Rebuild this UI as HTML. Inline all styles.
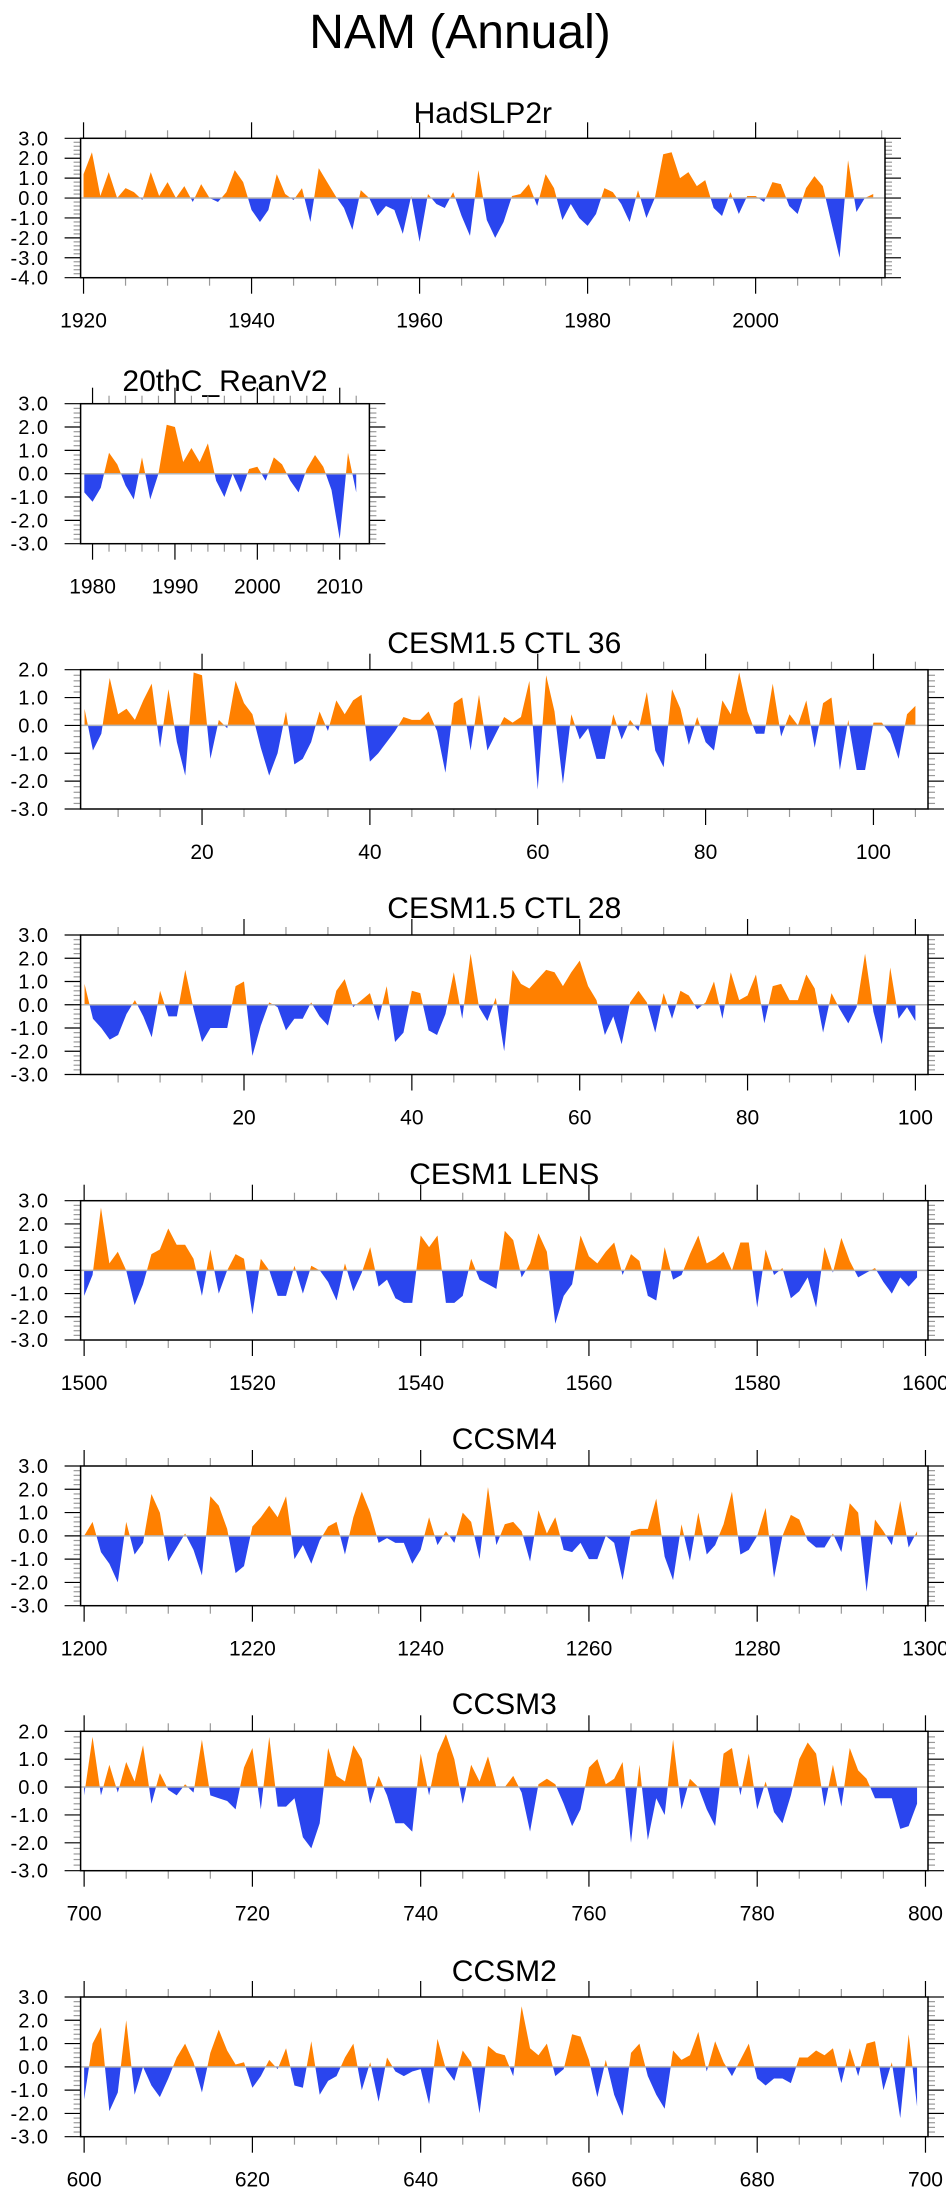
<!DOCTYPE html>
<html>
<head>
<meta charset="utf-8">
<style>
  html,body{margin:0;padding:0;background:#fff;}
  body{width:946px;height:2195px;overflow:hidden;}
  svg{display:block;}
  text{font-family:"Liberation Sans",sans-serif;fill:#000;}
</style>
</head>
<body>
<svg id="chart" width="946" height="2195" viewBox="0 0 946 2195" xmlns="http://www.w3.org/2000/svg">
  <text x="460" y="48" font-size="48" text-anchor="middle">NAM (Annual)</text>
</svg>
<script>
// ---- data ----
const hadslpStart = 1920;
const hadslpValues = [1.2,2.3,0.1,1.3,0.0,0.5,0.3,-0.1,1.3,0.1,0.8,0.0,0.6,-0.2,0.7,0.0,-0.2,0.3,1.4,0.8,
 -0.6,-1.2,-0.6,1.2,0.2,-0.1,0.5,-1.2,1.5,0.8,0.1,-0.5,-1.6,0.4,0.0,-0.9,-0.4,-0.6,-1.8,0.1,
 -2.2,0.2,-0.3,-0.5,0.3,-0.9,-1.9,1.4,-1.1,-2.0,-1.2,0.1,0.2,0.7,-0.4,1.2,0.5,-1.1,-0.3,-1.0,
 -1.4,-0.8,0.5,0.3,-0.3,-1.2,0.4,-1.0,0.0,2.2,2.3,1.0,1.3,0.6,0.9,-0.5,-0.9,0.3,-0.8,0.1,
 0.1,-0.2,0.8,0.7,-0.4,-0.8,0.5,1.1,0.6,-1.2,-3.0,1.9,-0.7,0.0,0.2];
const reanStart = 1979;
const reanValues = [-0.8,-1.2,-0.6,0.9,0.4,-0.5,-1.1,0.7,-1.1,0.0,2.1,2.0,0.5,1.1,0.5,1.3,-0.3,-1.0,0.0,-0.8,
 0.2,0.3,-0.3,0.7,0.4,-0.3,-0.8,0.2,0.8,0.3,-0.7,-2.8,0.9,-0.8];
const ctl36Start = 6;
const ctl36Values = [0.6,-0.9,-0.3,1.7,0.4,0.6,0.2,0.9,1.5,-0.8,1.3,-0.6,-1.8,1.9,1.8,-1.2,0.2,-0.1,1.6,0.8,
 0.4,-0.8,-1.8,-1.0,0.5,-1.4,-1.2,-0.6,0.5,-0.2,0.9,0.4,0.9,1.1,-1.3,-1.0,-0.6,-0.2,0.3,0.2,
 0.2,0.5,-0.2,-1.7,0.8,1.0,-0.9,1.1,-0.9,-0.3,0.3,0.1,0.3,1.6,-2.3,1.8,0.5,-2.1,0.4,-0.5,
 -0.1,-1.2,-1.2,0.4,-0.5,0.2,-0.2,1.2,-0.9,-1.5,1.3,0.6,-0.7,0.3,-0.6,-0.9,0.9,0.4,1.9,0.5,
 -0.3,-0.3,1.5,-0.4,0.4,0.0,0.9,-0.8,0.8,1.0,-1.6,0.2,-1.6,-1.6,0.1,0.1,-0.3,-1.2,0.4,0.7];
const ctl28Start = 1;
const ctl28Values = [0.9,-0.6,-1.0,-1.5,-1.3,-0.4,0.2,-0.5,-1.4,0.6,-0.5,-0.5,1.5,-0.2,-1.6,-1.0,-1.0,-1.0,0.8,1.0,
 -2.2,-0.9,0.1,-0.1,-1.1,-0.6,-0.6,0.1,-0.5,-0.9,0.6,1.1,-0.1,0.2,0.5,-0.7,0.8,-1.6,-1.2,0.6,
 0.5,-1.1,-1.3,-0.4,1.4,-0.6,2.2,-0.1,-0.7,0.3,-2.0,1.5,0.9,0.7,1.1,1.5,1.4,0.8,1.4,1.9,
 0.8,0.2,-1.3,-0.5,-1.7,0.1,0.6,0.1,-1.2,0.5,-0.6,0.6,0.4,-0.2,0.1,1.0,-0.6,1.4,0.2,0.4,
 1.3,-0.8,0.8,0.9,0.2,0.2,1.3,0.7,-1.2,0.5,-0.2,-0.8,-0.1,2.2,-0.3,-1.7,1.6,-0.6,-0.1,-0.7];
const lensStart = 1500;
const lensValues = [-1.1,-0.2,2.7,0.3,0.8,0.0,-1.5,-0.6,0.7,0.9,1.8,1.1,1.1,0.5,-1.1,0.9,-1.0,0.0,0.7,0.5,
 -1.9,0.5,0.0,-1.1,-1.1,0.2,-1.0,0.2,0.0,-0.5,-1.3,0.3,-0.9,-0.1,1.0,-0.7,-0.4,-1.2,-1.4,-1.4,
 1.5,1.0,1.5,-1.4,-1.4,-1.1,0.5,-0.4,-0.6,-0.8,1.7,1.3,-0.3,0.3,1.6,0.8,-2.3,-1.1,-0.6,1.5,
 0.6,0.3,0.8,1.2,-0.2,0.7,0.4,-1.1,-1.3,1.0,-0.4,-0.2,0.7,1.5,0.3,0.5,0.8,0.0,1.2,1.2,
 -1.6,0.9,-0.2,0.1,-1.2,-0.9,-0.3,-1.6,1.0,-0.1,1.4,0.4,-0.3,-0.1,0.1,-0.5,-1.0,-0.3,-0.7,-0.3];
const ccsm4Start = 1200;
const ccsm4Values = [0.0,0.6,-0.7,-1.2,-2.0,0.6,-0.8,-0.3,1.8,1.0,-1.1,-0.5,0.1,-0.6,-1.7,1.7,1.3,0.3,-1.6,-1.3,
 0.4,0.8,1.3,0.8,1.7,-1.0,-0.4,-1.2,-0.2,0.4,0.6,-0.8,0.8,1.9,1.0,-0.3,-0.1,-0.3,-0.3,-1.2,
 -0.6,0.8,-0.4,0.2,-0.3,1.0,0.6,-1.0,2.1,-0.4,0.5,0.6,0.2,-1.1,1.1,0.1,0.8,-0.6,-0.7,-0.3,
 -1.0,-1.0,0.0,-0.3,-1.9,0.2,0.3,0.3,1.6,-0.9,-1.9,0.5,-1.1,1.0,-0.8,-0.4,0.5,1.9,-0.8,-0.6,
 0.0,1.2,-1.8,0.0,0.9,0.7,-0.2,-0.5,-0.5,0.1,-0.7,1.4,1.0,-2.4,0.7,0.2,-0.4,1.5,-0.5,0.2];
const ccsm3Start = 700;
const ccsm3Values = [-0.3,1.8,-0.3,0.8,-0.2,0.9,0.2,1.5,-0.6,0.5,-0.1,-0.3,0.1,-0.2,1.7,-0.3,-0.4,-0.5,-0.8,0.7,
 1.4,-0.8,1.8,-0.7,-0.7,-0.4,-1.8,-2.2,-1.3,1.4,0.4,0.2,1.5,1.0,-0.6,0.4,-0.3,-1.3,-1.3,-1.6,
 1.2,-0.3,1.2,1.9,1.0,-0.6,0.8,0.2,1.1,0.0,0.0,0.4,-0.2,-1.6,0.1,0.3,0.1,-0.6,-1.4,-0.8,
 0.7,1.0,0.1,0.3,0.9,-2.0,0.8,-1.9,-0.4,-1.0,1.7,-0.8,0.3,0.0,-0.8,-1.4,1.2,1.4,-0.3,1.2,
 -0.8,0.2,-0.9,-1.3,-0.3,1.0,1.6,1.2,-0.7,0.8,-0.7,1.4,0.6,0.3,-0.4,-0.4,-0.4,-1.5,-1.4,-0.6];
const ccsm2Start = 600;
const ccsm2Values = [-1.4,1.0,1.7,-1.9,-1.1,2.0,-1.2,0.0,-0.8,-1.3,-0.5,0.4,1.0,0.2,-1.1,0.6,1.6,0.7,0.1,0.2,
 -0.9,-0.4,0.3,-0.1,0.8,-0.8,-0.9,1.1,-1.2,-0.6,-0.4,0.4,1.0,-1.0,0.2,-1.5,0.4,-0.2,-0.4,-0.2,
 -0.1,-1.6,1.2,-0.1,-0.6,0.7,0.2,-2.0,0.9,0.6,0.5,-0.4,2.6,0.8,0.5,1.0,-0.4,-0.1,1.4,1.3,
 0.3,-1.3,0.3,-1.2,-2.1,0.6,1.0,-0.4,-1.2,-1.8,0.7,0.3,0.5,1.5,-0.2,1.1,0.2,-0.4,0.3,1.0,
 -0.5,-0.8,-0.5,-0.5,-0.7,0.4,0.4,0.7,0.5,0.8,-0.7,0.8,-0.4,1.0,1.1,-1.0,0.2,-2.2,1.4,-1.7];

const panelTitles = ["HadSLP2r","20thC_ReanV2","CESM1.5 CTL 36","CESM1.5 CTL 28","CESM1 LENS","CCSM4","CCSM3","CCSM2"];
const xTickLabels = [
 [1920,1940,1960,1980,2000],[1980,1990,2000,2010],[20,40,60,80,100],[20,40,60,80,100],
 [1500,1520,1540,1560,1580,1600],[1200,1220,1240,1260,1280,1300],[700,720,740,760,780,800],[600,620,640,660,680,700]];

// ---- layout ----
const NS = "http://www.w3.org/2000/svg";
const svg = document.getElementById('chart');
const ORANGE = "#ff8000", BLUE = "#2a45ee";
const panels = [
 {key:'hadslp', start:hadslpStart, vals:hadslpValues, L:80.6,R:885,T:138.3,B:277.7, d0:1919.65,d1:2015.4, y0:-4,y1:3, minor:5, ty:112},
 {key:'rean', start:reanStart, vals:reanValues, L:80.6,R:369.4,T:403.7,B:543.7, d0:1978.55,d1:2013.6, y0:-3,y1:3, minor:2, ty:380},
 {key:'ctl36', start:ctl36Start, vals:ctl36Values, L:80.6,R:928,T:669.7,B:809, d0:5.53,d1:106.5, y0:-3,y1:2, minor:5, ty:642},
 {key:'ctl28', start:ctl28Start, vals:ctl28Values, L:80.6,R:928,T:935,B:1074.5, d0:0.53,d1:101.5, y0:-3,y1:3, minor:5, ty:907},
 {key:'lens', start:lensStart, vals:lensValues, L:80.6,R:928,T:1200.7,B:1340, d0:1499.58,d1:1600.3, y0:-3,y1:3, minor:5, ty:1173},
 {key:'ccsm4', start:ccsm4Start, vals:ccsm4Values, L:80.6,R:928,T:1466,B:1605.7, d0:1199.58,d1:1300.3, y0:-3,y1:3, minor:5, ty:1438},
 {key:'ccsm3', start:ccsm3Start, vals:ccsm3Values, L:80.6,R:928,T:1731.3,B:1870.7, d0:699.58,d1:800.3, y0:-3,y1:2, minor:5, ty:1703},
 {key:'ccsm2', start:ccsm2Start, vals:ccsm2Values, L:80.6,R:928,T:1997,B:2136.7, d0:599.58,d1:700.3, y0:-3,y1:3, minor:5, ty:1970}
];

function mk(tag, attrs, parent){
  const e = document.createElementNS(NS, tag);
  for (const k in attrs) e.setAttribute(k, attrs[k]);
  (parent||svg).appendChild(e);
  return e;
}
const defs = mk('defs', {});

panels.forEach((p, i) => {
  const g = mk('g', {});
  
  
  const xS = v => p.L + (v - p.d0) / (p.d1 - p.d0) * (p.R - p.L);
  const yS = v => p.B - (v - p.y0) / (p.y1 - p.y0) * (p.B - p.T);
  const zy = yS(0);

  const t = mk('text', {x:(p.L+p.R)/2, y:p.ty+11, 'font-size':30, 'text-anchor':'middle'}, g);
  t.textContent = panelTitles[i];
  
  

  const cpUp = mk('clipPath', {id:'up'+i}, defs);
  mk('rect', {x:p.L, y:p.T, width:p.R-p.L, height:zy-p.T}, cpUp);
  const cpDn = mk('clipPath', {id:'dn'+i}, defs);
  mk('rect', {x:p.L, y:zy, width:p.R-p.L, height:p.B-zy}, cpDn);

  let d = 'M' + xS(p.start).toFixed(2) + ',' + zy.toFixed(2);
  p.vals.forEach((v, k) => { d += ' L' + xS(p.start + k).toFixed(2) + ',' + yS(v).toFixed(2); });
  d += ' L' + xS(p.start + p.vals.length - 1).toFixed(2) + ',' + zy.toFixed(2) + ' Z';
  const pos = mk('path', {d:d, fill:ORANGE, 'clip-path':'url(#up'+i+')'}, g);
  
  
  const neg = mk('path', {d:d, fill:BLUE, 'clip-path':'url(#dn'+i+')'}, g);
  
  

  const zl = mk('line', {x1:p.L, x2:p.R, y1:zy, y2:zy, stroke:'#b4b4b4', 'stroke-width':1.5}, g);
  
  

  for (let k = Math.round(p.y0*5); k <= Math.round(p.y1*5); k++) {
    const v = k/5, y = yS(v);
    const major = (k % 5 === 0);
    const len = major ? 16 : 7;
    const col = major ? '#000' : '#999';
    mk('line', {x1:p.L-len, x2:p.L, y1:y, y2:y, stroke:col, 'stroke-width':1.2}, g);
    mk('line', {x1:p.R, x2:p.R+len, y1:y, y2:y, stroke:col, 'stroke-width':1.2}, g);
    if (major) {
      const lb = mk('text', {x:49, y:y+7, 'font-size':20, 'letter-spacing':1, 'text-anchor':'end'}, g);
      lb.textContent = v.toFixed(1);
      
      
    }
  }
  const labels = xTickLabels[i];
  const step = labels[1] - labels[0];
  const firstMinor = Math.ceil(p.d0 / p.minor) * p.minor;
  for (let v = firstMinor; v <= p.d1; v += p.minor) {
    const x = xS(v);
    const major = (((v - labels[0]) % step) + step) % step === 0;
    const len = major ? 16 : 8;
    const col = major ? '#000' : '#999';
    mk('line', {x1:x, x2:x, y1:p.T-len, y2:p.T, stroke:col, 'stroke-width':1.2}, g);
    mk('line', {x1:x, x2:x, y1:p.B, y2:p.B+len, stroke:col, 'stroke-width':1.2}, g);
  }
  labels.forEach(v => {
    const lb = mk('text', {x:xS(v), y:p.B+50, 'font-size':21, 'text-anchor':'middle'}, g);
    lb.textContent = v;
    
    
  });

  const fr = mk('rect', {x:p.L, y:p.T, width:p.R-p.L, height:p.B-p.T, fill:'none', stroke:'#000', 'stroke-width':1.5}, g);
  
  
});
</script>
</body>
</html>
